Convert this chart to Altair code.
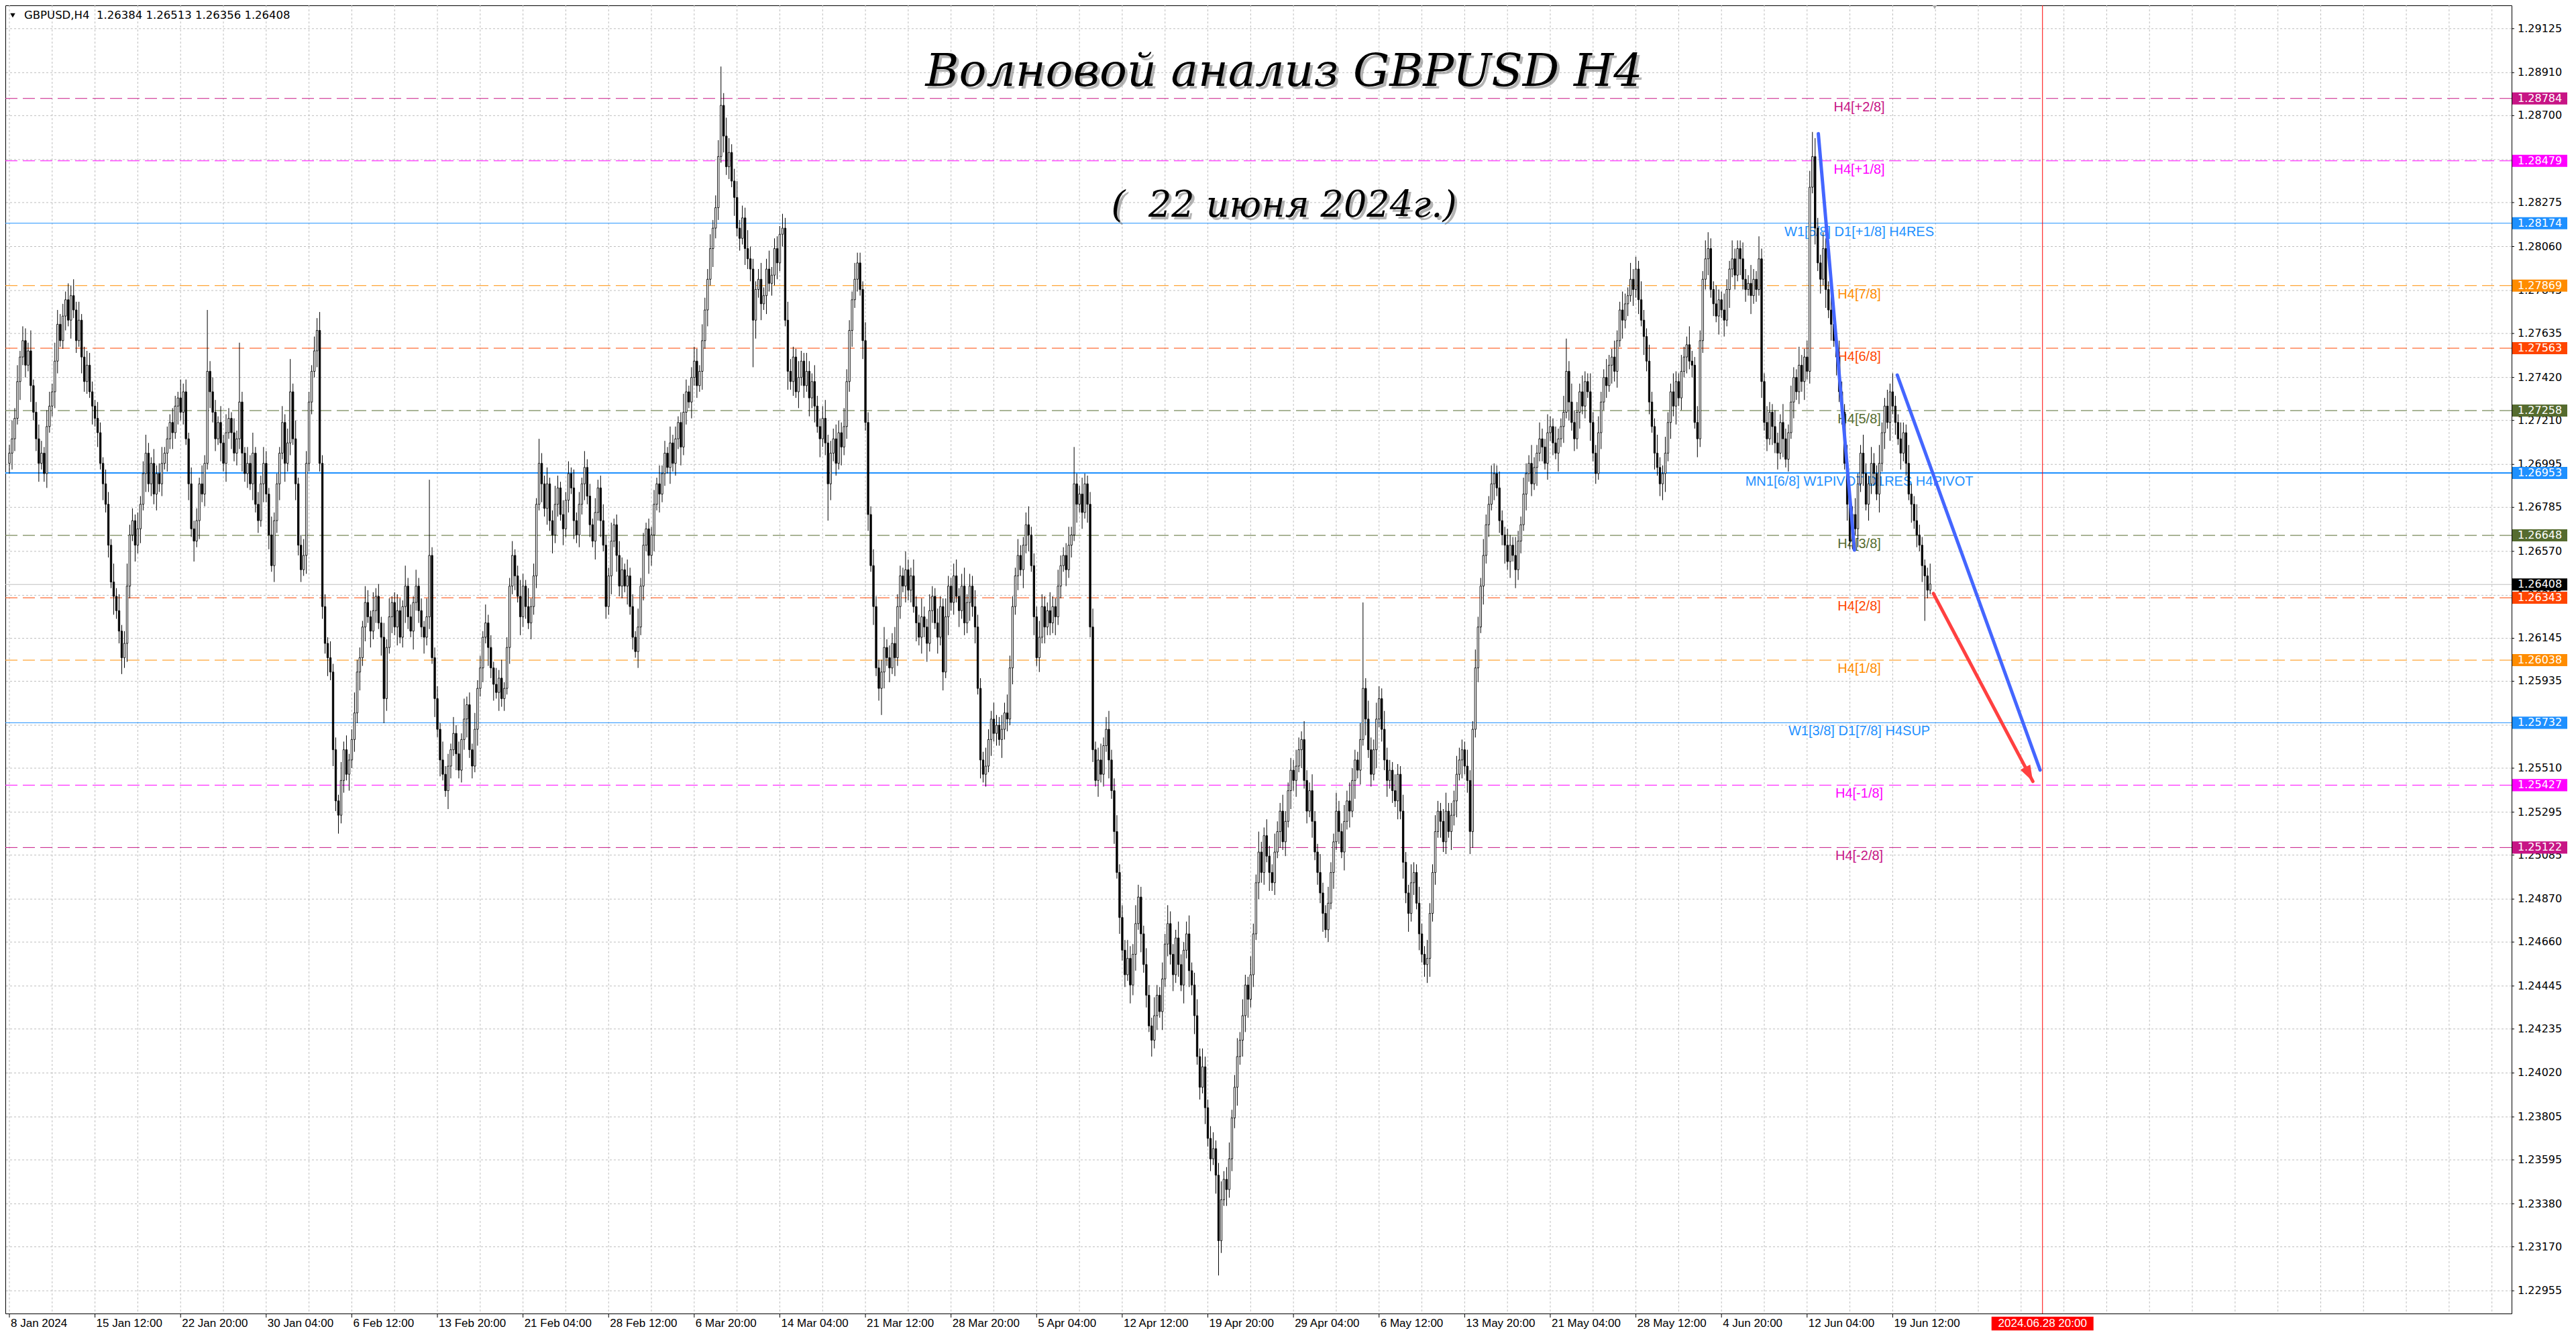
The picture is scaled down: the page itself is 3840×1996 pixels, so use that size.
import altair as alt
import pandas as pd

# ---------------- data ----------------
# H4 closes, in pips above 1.2000 (price = 1.2 + v/10000)
CLOSE = [
    705, 712, 722, 740, 752, 760, 748, 755, 738, 725,
    712, 700, 705, 695, 718, 728, 735, 750, 768, 760,
    772, 780, 770, 782, 775, 760, 770, 752, 740, 748,
    735, 728, 722, 715, 700, 690, 680, 660, 642, 635,
    628, 618, 605, 612, 640, 665, 672, 660, 668, 680,
    695, 705, 690, 700, 685, 695, 690, 700, 705, 712,
    720, 715, 728, 732, 725, 735, 712, 690, 668, 662,
    672, 690, 685, 700, 745, 735, 725, 712, 720, 710,
    700, 715, 722, 715, 705, 712, 730, 705, 695, 700,
    690, 705, 680, 672, 690, 700, 685, 665, 650, 672,
    690, 705, 720, 700, 710, 735, 712, 690, 660, 648,
    655, 700, 730, 745, 755, 765, 700, 630, 612, 605,
    598, 560, 535, 528, 545, 560, 548, 555, 565, 578,
    598, 605, 620, 632, 625, 618, 628, 635, 622, 615,
    585, 610, 625, 632, 620, 628, 615, 630, 640, 625,
    618, 632, 640, 628, 620, 615, 625, 655, 605, 585,
    570, 555, 548, 540, 552, 560, 568, 558, 550, 565,
    575, 582, 560, 552, 570, 590, 600, 615, 622, 610,
    600, 592, 588, 595, 585, 590, 610, 640, 655, 645,
    635, 625, 640, 630, 622, 630, 645, 680, 700, 690,
    678, 690, 672, 665, 680, 688, 675, 668, 682, 695,
    688, 672, 665, 680, 690, 698, 684, 670, 662, 676,
    688, 672, 660, 630, 645, 662, 670, 655, 640, 648,
    640, 645, 630, 615, 608, 620, 640, 660, 668, 655,
    665, 680, 690, 685, 695, 705, 698, 710, 700, 712,
    720, 708, 725, 735, 730, 742, 750, 738, 745, 760,
    775, 790, 805, 815, 825, 850, 875, 860, 845, 852,
    838, 830, 815, 810, 820, 805, 800, 795, 770, 785,
    790, 778, 782, 795, 788, 792, 805, 798, 812, 815,
    770, 745, 740, 752, 735, 742, 750, 738, 745, 732,
    740, 728, 718, 712, 722, 710, 690, 705, 712, 700,
    715, 708, 718, 740, 765, 780, 790, 798, 785, 760,
    720, 675, 650, 630, 600, 590, 598, 610, 605, 600,
    612, 605, 630, 645, 640, 648, 638, 645, 630, 622,
    615, 625, 620, 612, 628, 635, 622, 615, 630, 598,
    625, 640, 632, 645, 635, 628, 640, 622, 632, 640,
    630, 620, 590, 555, 548, 552, 565, 575, 568, 572,
    565, 570, 578, 575, 600, 630, 645, 655, 648, 660,
    670, 665, 650, 625, 605, 615, 630, 620, 628, 622,
    630, 625, 640, 650, 655, 648, 660, 665, 690, 680,
    685, 676, 690, 680, 620, 560, 545, 555, 548, 562,
    570, 555, 540, 520, 500, 478, 462, 450, 458, 445,
    460, 475, 488, 470, 455, 440, 425, 418, 430, 440,
    432, 448, 465, 475, 460, 450, 468, 455, 445, 462,
    470, 452, 445, 430, 410, 395, 405, 385, 370, 360,
    365, 352, 320, 340, 350, 345, 360, 380, 395, 410,
    418, 430, 445, 438, 450, 470, 495, 510, 500, 518,
    508, 500, 495, 510, 520, 530, 515, 525, 540, 550,
    545, 552, 560, 565, 545, 530, 540, 525, 510, 500,
    490, 480, 472, 485, 500, 515, 530, 520, 510, 525,
    535, 530, 545, 555, 550, 565, 590, 575, 560, 548,
    560, 575, 585, 570, 555, 545, 550, 540, 535, 548,
    530, 505, 490, 480, 495, 500, 485, 470, 460, 455,
    458, 480, 500, 520, 530, 525, 515, 530, 520, 528,
    535, 548, 555, 560, 552, 545, 520, 570, 600, 620,
    640, 655, 670, 680, 690, 695, 688, 672, 665, 660,
    652, 660, 655, 648, 662, 670, 685, 695, 700, 690,
    698, 705, 712, 708, 700, 715, 718, 710, 705, 712,
    718, 725, 745, 730, 720, 712, 725, 735, 728, 740,
    735, 720, 705, 695, 715, 730, 742, 738, 748, 752,
    745, 760, 775, 770, 778, 782, 790, 785, 795, 780,
    770, 762, 750, 730, 718, 705, 698, 690, 695, 705,
    720, 735, 728, 740, 732, 745, 752, 758, 750, 748,
    720, 712, 760, 790, 800, 805, 785, 778, 772, 780,
    775, 770, 785, 795, 800, 792, 805, 800, 790, 785,
    788, 782, 790, 785, 800, 740, 720, 712, 725, 718,
    710, 705, 720, 712, 702, 715, 730, 742, 735, 748,
    740, 752, 745, 835, 850, 815, 798, 790, 805, 785,
    775, 768, 760, 752, 735, 725, 700, 680, 662, 675,
    668, 690, 705, 695, 680, 690, 700, 695, 685, 700,
    715, 728, 720, 735, 728, 720, 712, 705, 715, 700,
    685, 680, 672, 665, 660, 650, 645, 638, 641,
]
FIRST_OPEN = 700

# upper wick (pips above the body) per bar
UPPER = [
    4, 9, 5, 8, 3, 7, 6, 4, 10, 3, 5, 7, 6, 3, 8, 7, 4, 9, 7, 5,
    6, 4, 8, 5, 8, 4, 9, 3, 5, 7, 6, 5, 3, 8, 5, 3, 7, 6, 3, 9,
    4, 8, 3, 6, 11, 5, 6, 3, 8, 4, 6, 9, 5, 3, 7, 4, 5, 8, 3, 6,
    4, 7, 5, 3, 9, 4, 6, 3, 8, 4, 6, 3, 9, 4, 30, 5, 7, 6, 3, 8,
    4, 9, 5, 3, 7, 4, 29, 5, 3, 8, 4, 10, 3, 6, 4, 8, 6, 3, 9, 4,
    5, 3, 8, 4, 7, 16, 4, 9, 3, 5, 8, 6, 5, 3, 7, 6, 9, 4, 6, 3,
    8, 4, 6, 3, 9, 4, 7, 3, 5, 10, 6, 5, 3, 8, 6, 3, 9, 4, 6, 3,
    7, 4, 9, 3, 5, 8, 6, 3, 10, 4, 6, 3, 8, 4, 6, 3, 9, 37, 4, 5,
    6, 3, 9, 4, 6, 3, 8, 4, 6, 3, 10, 4, 6, 3, 8, 4, 6, 3, 9, 4,
    6, 3, 8, 4, 9, 3, 5, 4, 7, 3, 5, 8, 6, 3, 9, 4, 6, 3, 12, 5,
    4, 8, 3, 5, 9, 6, 3, 7, 4, 6, 3, 9, 4, 6, 3, 8, 4, 6, 3, 7,
    4, 6, 8, 5, 4, 9, 3, 5, 7, 6, 3, 8, 4, 6, 3, 9, 4, 6, 3, 5,
    4, 7, 3, 9, 4, 6, 3, 8, 4, 6, 3, 5, 9, 6, 3, 5, 7, 6, 3, 8,
    6, 5, 7, 4, 6, 8, 19, 6, 9, 7, 4, 6, 8, 4, 6, 5, 9, 6, 5, 4,
    5, 8, 4, 5, 9, 4, 5, 6, 4, 7, 5, 9, 6, 5, 4, 8, 5, 4, 9, 5,
    4, 8, 5, 4, 6, 9, 4, 6, 5, 7, 6, 5, 9, 6, 5, 4, 8, 5, 5, 4,
    9, 5, 4, 8, 5, 4, 6, 10, 4, 6, 5, 8, 6, 5, 4, 9, 5, 4, 8, 5,
    4, 9, 5, 4, 8, 5, 4, 7, 5, 4, 9, 5, 4, 6, 8, 4, 6, 9, 4, 6,
    5, 8, 6, 5, 4, 9, 5, 4, 8, 5, 4, 7, 5, 9, 6, 5, 4, 8, 5, 4,
    6, 9, 4, 6, 5, 8, 6, 5, 4, 9, 5, 4, 8, 5, 4, 6, 9, 4, 18, 5,
    4, 8, 5, 4, 6, 9, 4, 6, 8, 4, 6, 9, 5, 6, 8, 4, 6, 5, 9, 6,
    5, 9, 6, 5, 4, 8, 5, 4, 9, 5, 4, 8, 5, 9, 6, 5, 4, 8, 5, 4,
    6, 9, 4, 6, 8, 4, 9, 5, 4, 6, 8, 4, 6, 9, 4, 6, 8, 4, 6, 9,
    4, 8, 5, 4, 9, 5, 4, 10, 5, 4, 8, 5, 4, 9, 5, 4, 8, 5, 4, 6,
    5, 8, 6, 4, 9, 5, 4, 8, 5, 4, 9, 5, 4, 8, 5, 4, 9, 5, 4, 8,
    5, 9, 6, 5, 4, 8, 42, 5, 9, 6, 5, 8, 6, 5, 9, 6, 5, 4, 8, 5,
    4, 8, 5, 4, 9, 5, 4, 8, 5, 4, 9, 5, 4, 8, 5, 4, 6, 9, 4, 6,
    5, 9, 6, 5, 4, 8, 5, 4, 9, 5, 4, 8, 5, 4, 9, 5, 4, 8, 5, 4,
    8, 5, 4, 9, 5, 4, 8, 5, 4, 9, 5, 4, 8, 5, 4, 9, 5, 4, 8, 5,
    4, 8, 16, 5, 9, 6, 5, 4, 8, 5, 4, 9, 5, 4, 8, 5, 4, 9, 5, 4,
    8, 5, 4, 9, 5, 4, 8, 5, 6, 4, 9, 5, 4, 8, 5, 4, 9, 5, 4, 8,
    5, 4, 9, 5, 4, 8, 5, 4, 9, 5, 4, 8, 5, 4, 9, 8, 5, 4, 9, 5,
    4, 8, 5, 4, 9, 5, 4, 4, 8, 5, 4, 9, 5, 4, 11, 5, 4, 8, 5, 4,
    8, 5, 4, 9, 5, 4, 8, 5, 4, 9, 5, 4, 8, 8, 12, 9, 5, 4, 8, 5,
    4, 9, 5, 4, 8, 5, 4, 9, 5, 4, 8, 5, 4, 9, 5, 4, 8, 5, 4, 9,
    5, 4, 8, 4, 9, 5, 4, 8, 5, 4, 9, 5, 4, 8, 5, 4, 3, 4, 10,
]

# lower wick (pips below the body) per bar
LOWER = [
    5, 8, 6, 3, 9, 4, 6, 3, 8, 4, 6, 9, 3, 4, 7, 3, 5, 8, 6, 3,
    4, 7, 3, 9, 4, 6, 3, 8, 5, 6, 3, 9, 4, 7, 3, 8, 4, 6, 3, 9,
    4, 6, 8, 5, 9, 6, 3, 8, 4, 7, 3, 9, 4, 6, 5, 8, 4, 6, 3, 9,
    5, 8, 3, 9, 4, 6, 3, 8, 4, 10, 3, 9, 4, 6, 3, 8, 5, 6, 3, 9,
    4, 9, 3, 8, 4, 6, 5, 9, 4, 7, 3, 8, 4, 6, 3, 9, 4, 7, 3, 8,
    6, 8, 3, 9, 4, 6, 3, 8, 5, 6, 3, 9, 4, 6, 3, 8, 4, 6, 5, 9,
    4, 8, 5, 9, 4, 6, 3, 8, 4, 6, 5, 9, 4, 7, 3, 8, 4, 6, 3, 9,
    12, 6, 3, 8, 4, 9, 3, 5, 8, 6, 3, 9, 4, 6, 5, 8, 4, 6, 3, 9,
    4, 8, 3, 3, 9, 6, 3, 8, 4, 6, 5, 9, 4, 6, 3, 8, 4, 7, 3, 9,
    5, 8, 3, 9, 4, 6, 3, 8, 4, 7, 3, 9, 5, 6, 3, 8, 4, 6, 3, 9,
    4, 8, 5, 9, 4, 6, 3, 8, 4, 6, 3, 9, 4, 6, 5, 8, 4, 6, 3, 9,
    4, 8, 3, 6, 4, 9, 3, 8, 5, 6, 3, 9, 4, 6, 3, 8, 4, 7, 3, 9,
    5, 8, 3, 9, 4, 6, 3, 8, 4, 6, 5, 9, 4, 6, 3, 8, 4, 6, 3, 9,
    4, 8, 3, 9, 5, 6, 3, 8, 4, 6, 3, 9, 4, 6, 3, 8, 5, 6, 23, 9,
    4, 8, 3, 9, 4, 6, 5, 8, 4, 6, 3, 9, 4, 7, 3, 8, 4, 6, 3, 9,
    5, 8, 3, 9, 4, 6, 18, 8, 4, 6, 3, 9, 4, 6, 5, 8, 4, 6, 3, 9,
    4, 8, 3, 9, 4, 6, 13, 8, 4, 7, 3, 9, 4, 6, 3, 8, 5, 6, 3, 9,
    4, 8, 5, 9, 4, 6, 3, 8, 4, 9, 3, 9, 4, 6, 3, 8, 4, 6, 5, 9,
    5, 8, 3, 9, 4, 6, 3, 8, 4, 6, 3, 9, 5, 6, 3, 8, 4, 7, 3, 9,
    4, 8, 3, 9, 4, 7, 3, 8, 4, 6, 5, 9, 4, 6, 3, 8, 4, 6, 3, 9,
    4, 8, 3, 9, 5, 6, 3, 8, 4, 6, 3, 9, 4, 6, 3, 8, 5, 6, 3, 9,
    5, 8, 3, 9, 4, 6, 3, 8, 4, 7, 3, 9, 4, 6, 5, 8, 4, 6, 3, 9,
    4, 8, 5, 9, 4, 6, 3, 8, 4, 6, 3, 9, 17, 6, 3, 8, 4, 6, 5, 9,
    4, 8, 8, 9, 4, 6, 3, 8, 5, 6, 3, 9, 4, 6, 3, 8, 4, 7, 3, 9,
    5, 8, 3, 9, 4, 6, 3, 8, 4, 6, 5, 9, 4, 6, 3, 8, 4, 6, 3, 9,
    4, 8, 3, 9, 4, 7, 3, 8, 4, 6, 3, 9, 4, 6, 5, 8, 4, 6, 3, 9,
    4, 8, 5, 9, 4, 6, 3, 8, 4, 6, 9, 9, 4, 6, 3, 8, 5, 6, 3, 9,
    5, 8, 3, 9, 4, 6, 11, 8, 4, 7, 3, 9, 4, 6, 3, 8, 4, 6, 5, 9,
    4, 8, 3, 9, 5, 6, 3, 8, 4, 6, 3, 9, 4, 7, 3, 8, 4, 6, 3, 9,
    4, 8, 3, 9, 4, 6, 5, 8, 4, 6, 3, 9, 4, 5, 3, 8, 4, 6, 3, 9,
    5, 8, 3, 9, 4, 6, 3, 8, 4, 7, 3, 9, 5, 6, 3, 8, 4, 6, 8, 9,
    4, 8, 5, 9, 4, 6, 3, 8, 4, 6, 3, 9, 4, 6, 5, 8, 4, 6, 3, 9,
    4, 8, 3, 9, 4, 7, 3, 8, 5, 6, 3, 9, 4, 6, 3, 8, 4, 6, 3, 9,
    5, 8, 3, 9, 4, 6, 3, 8, 4, 6, 5, 9, 4, 6, 3, 8, 4, 7, 3, 9,
    4, 8, 3, 9, 5, 6, 3, 8, 4, 4, 3, 9, 4, 6, 3, 8, 5, 6, 3, 9,
    4, 8, 3, 9, 4, 6, 3, 8, 4, 6, 3, 9, 4, 6, 3, 8, 22, 4, 2,
]

X_LABELS = [
    "8 Jan 2024", "15 Jan 12:00", "22 Jan 20:00", "30 Jan 04:00", "6 Feb 12:00",
    "13 Feb 20:00", "21 Feb 04:00", "28 Feb 12:00", "6 Mar 20:00", "14 Mar 04:00",
    "21 Mar 12:00", "28 Mar 20:00", "5 Apr 04:00", "12 Apr 12:00", "19 Apr 20:00",
    "29 Apr 04:00", "6 May 12:00", "13 May 20:00", "21 May 04:00", "28 May 12:00",
    "4 Jun 20:00", "12 Jun 04:00", "19 Jun 12:00",
]
BARS_PER_LABEL = 32
BARS_PER_GRID = 16

Y_TICKS = [
    1.29125, 1.28910, 1.28700, 1.28485, 1.28275, 1.28060, 1.27845, 1.27635,
    1.27420, 1.27210, 1.26995, 1.26785, 1.26570, 1.26355, 1.26145, 1.25935,
    1.25720, 1.25510, 1.25295, 1.25085, 1.24870, 1.24660, 1.24445, 1.24235,
    1.24020, 1.23805, 1.23595, 1.23380, 1.23170, 1.22955,
]

LEVEL_PRICE = [1.28784, 1.28479, 1.28174, 1.27869, 1.27563, 1.27258, 1.26953,
               1.26648, 1.26343, 1.26038, 1.25732, 1.25427, 1.25122]
LEVEL_TEXT = ["H4[+2/8]", "H4[+1/8]", "W1[5/8] D1[+1/8] H4RES", "H4[7/8]", "H4[6/8]",
              "H4[5/8]", "MN1[6/8] W1PIVOT D1RES H4PIVOT", "H4[3/8]", "H4[2/8]",
              "H4[1/8]", "W1[3/8] D1[7/8] H4SUP", "H4[-1/8]", "H4[-2/8]"]
LEVEL_COLOR = ["#C71585", "#FF00FF", "#1E90FF", "#FF8C00", "#FF4500", "#556B2F",
               "#1E90FF", "#556B2F", "#FF4500", "#FF8C00", "#1E90FF", "#FF00FF", "#C71585"]
LEVEL_SOLID = [False, False, True, False, False, False, True,
               False, False, False, True, False, False]
LEVEL_WIDTH = [1, 1, 1, 1, 1, 1, 2, 1, 1, 1, 1, 1, 1]

BID = 1.26408
BOX_PRICE = [1.28784, 1.28479, 1.28174, 1.27869, 1.27563, 1.27258, 1.26953,
             1.26648, 1.26408, 1.26343, 1.26038, 1.25732, 1.25427, 1.25122]
BOX_COLOR = ["#C71585", "#FF00FF", "#1E90FF", "#FF8C00", "#FF4500", "#556B2F", "#1E90FF",
             "#556B2F", "#000000", "#FF4500", "#FF8C00", "#1E90FF", "#FF00FF", "#C71585"]

# hand-drawn objects: (bar index, price)
TREND_SEG = ["b1", "b1", "b2", "b2", "r", "r"]
TREND_BAR = [676.2, 689.7, 705.7, 759.1, 719.2, 756.4]
TREND_PRICE = [1.28612, 1.26576, 1.27432, 1.25501, 1.26364, 1.25445]
TREND_COLOR = ["#4466FF", "#4466FF", "#4466FF", "#4466FF", "#FF4040", "#FF4040"]

FUTURE_BAR = 760
FUTURE_TEXT = "2024.06.28 20:00"
LABEL_BAR = 691.5
HEADER = "GBPUSD,H4\u00a0\u00a01.26384 1.26513 1.26356 1.26408"
TITLE = "Волновой анализ GBPUSD H4"
SUBTITLE = "(\u00a0\u00a022 июня 2024г.)"

# ---------------- build tables ----------------
opens = [FIRST_OPEN] + CLOSE[:-1]
rows = []
for i, (o, c, u, d) in enumerate(zip(opens, CLOSE, UPPER, LOWER)):
    rows.append({
        "i": i,
        "o": 1.2 + o / 1e4,
        "c": 1.2 + c / 1e4,
        "h": 1.2 + (max(o, c) + u) / 1e4,
        "l": 1.2 + (min(o, c) - d) / 1e4,
        "fill": "white" if c >= o else "black",
    })
candles = pd.DataFrame(rows)

W, H = 3736, 1950
xs = alt.Scale(domain=[-0.25, 934.1], nice=False, zero=False)
ys = alt.Scale(domain=[1.22844, 1.29239], nice=False, zero=False)


def X(f):
    return alt.X(f, scale=xs, axis=None)


def Y(f):
    return alt.Y(f, scale=ys, axis=None)


GRIDC = "#BEBEBE"
vgrid = alt.Chart(pd.DataFrame({"g": list(range(0, 935, BARS_PER_GRID))})).mark_rule(
    color=GRIDC, strokeDash=[3, 3], strokeWidth=1).encode(x=X("g:Q"))
ytk = pd.DataFrame({"p": Y_TICKS, "t": ["%.5f" % v for v in Y_TICKS]})
hgrid = alt.Chart(ytk).mark_rule(color=GRIDC, strokeDash=[3, 3], strokeWidth=1).encode(y=Y("p:Q"))

# price scale (right)
y_ticks = alt.Chart(ytk).mark_rule(color="black", strokeWidth=1).encode(
    y=Y("p:Q"), x=alt.value(W), x2=alt.value(W + 4))
y_labels = alt.Chart(ytk).mark_text(align="left", baseline="middle", font="DejaVu Sans",
                                    fontSize=16, color="black").encode(
    x=alt.value(W + 9), y=Y("p:Q"), text="t:N")

# time scale (bottom)
xtk = pd.DataFrame({"i": [k * BARS_PER_LABEL for k in range(len(X_LABELS))], "t": X_LABELS})
x_ticks = alt.Chart(xtk).mark_rule(color="black", strokeWidth=1).encode(
    x=X("i:Q"), y=alt.value(H), y2=alt.value(H + 6))
x_labels = alt.Chart(xtk).mark_text(align="left", baseline="middle", dx=2,
                                    font="Liberation Sans", fontSize=17,
                                    color="black").encode(
    x=X("i:Q"), y=alt.value(H + 15), text="t:N")

lv = pd.DataFrame({"p": LEVEL_PRICE, "t": LEVEL_TEXT, "col": LEVEL_COLOR,
                   "solid": LEVEL_SOLID, "w": LEVEL_WIDTH, "lx": LABEL_BAR})
lv_dash = alt.Chart(lv[~lv.solid]).mark_rule(strokeDash=[18, 8]).encode(
    y=Y("p:Q"), color=alt.Color("col:N", scale=None),
    strokeWidth=alt.StrokeWidth("w:Q", scale=None))
lv_solid = alt.Chart(lv[lv.solid]).mark_rule().encode(
    y=Y("p:Q"), color=alt.Color("col:N", scale=None),
    strokeWidth=alt.StrokeWidth("w:Q", scale=None))
bid_line = alt.Chart(pd.DataFrame({"p": [BID]})).mark_rule(
    color="#C0C0C0", strokeWidth=1).encode(y=Y("p:Q"))
lv_text = alt.Chart(lv).mark_text(align="center", baseline="top", dy=3,
                                  font="Liberation Sans", fontSize=20).encode(
    x=X("lx:Q"), y=Y("p:Q"), text="t:N", color=alt.Color("col:N", scale=None))

future = pd.DataFrame({"i": [FUTURE_BAR], "t": [FUTURE_TEXT]})
future_line = alt.Chart(future).mark_rule(color="#FF0000", strokeWidth=1).encode(x=X("i:Q"))

wicks = alt.Chart(candles).mark_rule(color="black", strokeWidth=1).encode(
    x=X("i:Q"), y=Y("l:Q"), y2="h:Q")
bodies = alt.Chart(candles).mark_bar(width=2.4, stroke="black", strokeWidth=0.9).encode(
    x=X("i:Q"), y=Y("o:Q"), y2="c:Q", fill=alt.Fill("fill:N", scale=None))

tr = pd.DataFrame({"seg": TREND_SEG, "i": TREND_BAR, "p": TREND_PRICE, "col": TREND_COLOR})
trend = alt.Chart(tr).mark_line(strokeWidth=5, strokeCap="round").encode(
    x=X("i:Q"), y=Y("p:Q"), detail="seg:N", color=alt.Color("col:N", scale=None))
head = alt.Chart(tr[tr.seg == "r"].tail(1)).mark_point(
    shape="M0,0L-0.55,1.6L0.55,1.6Z", size=900, filled=True, opacity=1,
    angle=152, color="#FF4040", strokeWidth=0).encode(x=X("i:Q"), y=Y("p:Q"))

bx = pd.DataFrame({"p": BOX_PRICE, "col": BOX_COLOR, "t": ["%.5f" % v for v in BOX_PRICE]})
boxes = alt.Chart(bx).mark_point(shape="M-1,-0.22L1,-0.22L1,0.22L-1,0.22Z", size=82 ** 2,
                                 filled=True, opacity=1, strokeWidth=0).encode(
    x=alt.value(W + 42), y=Y("p:Q"), color=alt.Color("col:N", scale=None))
box_text = alt.Chart(bx).mark_text(align="left", baseline="middle", font="DejaVu Sans",
                                   fontSize=16, color="white").encode(
    x=alt.value(W + 9), y=Y("p:Q"), text="t:N")

fbox = alt.Chart(future).mark_point(shape="M-1,-0.135L1,-0.135L1,0.135L-1,0.135Z",
                                    size=152 ** 2, filled=True, opacity=1,
                                    strokeWidth=0, color="#FF0000").encode(
    x=X("i:Q"), y=alt.value(H + 15))
ftext = alt.Chart(future).mark_text(align="center", baseline="middle", font="Liberation Sans",
                                    fontSize=17, color="white").encode(
    x=X("i:Q"), y=alt.value(H + 15), text="t:N")

tt = pd.DataFrame({"t": [TITLE, SUBTITLE], "y": [100, 299], "s": [68, 54]})
title_shadow = alt.Chart(tt).mark_text(align="center", baseline="middle", font="DejaVu Serif",
                                       fontStyle="italic", color="#777777", opacity=0.55,
                                       dx=4, dy=4).encode(
    x=alt.value(1906), y=alt.Y("y:Q", scale=None), text="t:N",
    size=alt.Size("s:Q", scale=None, legend=None))
title_text = alt.Chart(tt).mark_text(align="center", baseline="middle", font="DejaVu Serif",
                                     fontStyle="italic", color="black").encode(
    x=alt.value(1906), y=alt.Y("y:Q", scale=None), text="t:N",
    size=alt.Size("s:Q", scale=None, legend=None))

hdr = pd.DataFrame({"t": [HEADER]})
header = alt.Chart(hdr).mark_text(align="left", baseline="middle", font="DejaVu Sans",
                                  fontSize=16.5, color="black").encode(
    x=alt.value(28), y=alt.value(15), text="t:N")
tri = alt.Chart(hdr).mark_point(shape="triangle-down", filled=True, size=55, opacity=1,
                                color="black").encode(x=alt.value(11), y=alt.value(15))
shift_mark = alt.Chart(hdr).mark_point(shape="triangle-down", filled=True, size=110,
                                       opacity=1, color="#A8A8A8").encode(
    x=alt.value(2876), y=alt.value(1))

chart = alt.layer(
    vgrid, hgrid, lv_dash, lv_solid, bid_line, lv_text, future_line,
    wicks, bodies, trend, head,
    y_ticks, y_labels, x_ticks, x_labels,
    boxes, box_text, fbox, ftext,
    title_shadow, title_text, header, tri, shift_mark,
).properties(
    width=W, height=H,
    padding={"left": 0, "top": 0, "right": 84, "bottom": 26},
    autosize=alt.AutoSizeParams(type="none"),
    background="white",
).configure_view(stroke="black", strokeWidth=1)

chart.save("out.html", embed_options={"renderer": "svg", "actions": False})
